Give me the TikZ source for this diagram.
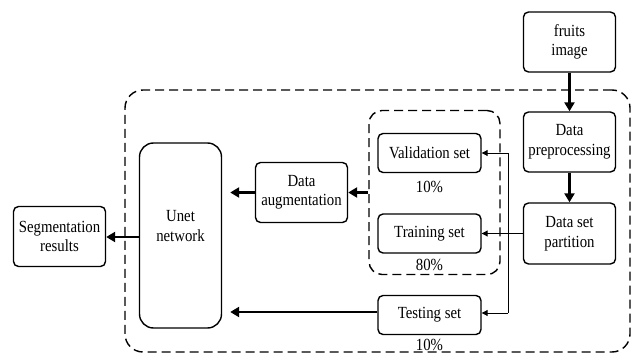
\documentclass[tikz,border=0pt]{standalone}
\usepackage{fontspec}
\setmainfont{Liberation Serif}[FakeStretch=0.87]
\usetikzlibrary{arrows.meta,calc}
\begin{document}
\begin{tikzpicture}[x=1pt,y=-1pt,
  box/.style={draw,line width=1.4pt,rounded corners=5pt,align=center,inner sep=0pt,
    font=\fontsize{17}{19.5}\selectfont},
  dbox/.style={draw,line width=1.4pt,dash pattern=on 9pt off 5pt,inner sep=0pt},
  lbl/.style={inner sep=0pt,font=\fontsize{17}{19.5}\selectfont},
  thick arrow/.style={line width=2.6pt,-{Triangle[length=9pt,width=10pt]}},
  thin arrow/.style={line width=1pt,-{Triangle[length=6pt,width=6pt]}},
  thin line/.style={line width=1pt}]
\useasboundingbox (0,0) rectangle (632,353);
% dashed groups
\node[dbox,rounded corners=18pt,minimum width=505pt,minimum height=262pt] (outer) at (377.5,221) {};
\node[dbox,rounded corners=13pt,minimum width=131pt,minimum height=164pt] (inner) at (434.5,192.5) {};
% boxes
\node[box,minimum width=92pt,minimum height=60pt] (fruits) at (569.5,42) {fruits\\image};
\node[box,minimum width=92pt,minimum height=60pt] (prep) at (569.5,142) {Data\\preprocessing};
\node[box,minimum width=92pt,minimum height=61pt] (part) at (569.5,233.5) {Data set\\partition};
\node[box,minimum width=103pt,minimum height=39pt] (val) at (429.5,153) {Validation set};
\node[box,minimum width=103pt,minimum height=39pt] (train) at (429.5,233.5) {Training set};
\node[box,minimum width=103pt,minimum height=39pt] (test) at (429.5,315) {Testing set};
\node[box,minimum width=92pt,minimum height=60pt] (aug) at (301.5,192.5) {Data\\augmentation};
\node[box,rounded corners=14pt,minimum width=82pt,minimum height=185pt] (unet) at (180.5,235.5) {};
\node[lbl,align=center] (unettxt) at (180.5,226) {Unet\\network};
\node[box,minimum width=92pt,minimum height=60pt] (seg) at (59.5,236.5) {Segmentation\\results};
% percentages
\node[lbl] (p1) at (429.5,187) {10\%};
\node[lbl] (p2) at (429.5,265) {80\%};
\node[lbl] (p3) at (429.5,345) {10\%};
% connectors
\draw[thick arrow] (fruits.south) -- (prep.north);
\draw[thick arrow] (prep.south) -- (part.north);
\draw[thin arrow] (part.west) -- (train.east);
\coordinate (vtop) at (508,153);
\coordinate (vbot) at (508,313);
\draw[thin line] (vtop) -- (vbot);
\draw[thin arrow] (vtop) -- (val.east);
\draw[thin arrow] (vbot) -- (vbot -| test.east);
\draw[thick arrow] (inner.west) -- (aug.east);
\draw[thick arrow,shorten >=8pt] (aug.west) -- (aug.west -| unet.east);
\draw[thick arrow,shorten >=8pt] (test.west |- 0,312) -- (unet.east |- 0,312);
\draw[thick arrow] (unet.west |- 0,237) -- (seg.east |- 0,237);
\end{tikzpicture}
\end{document}
